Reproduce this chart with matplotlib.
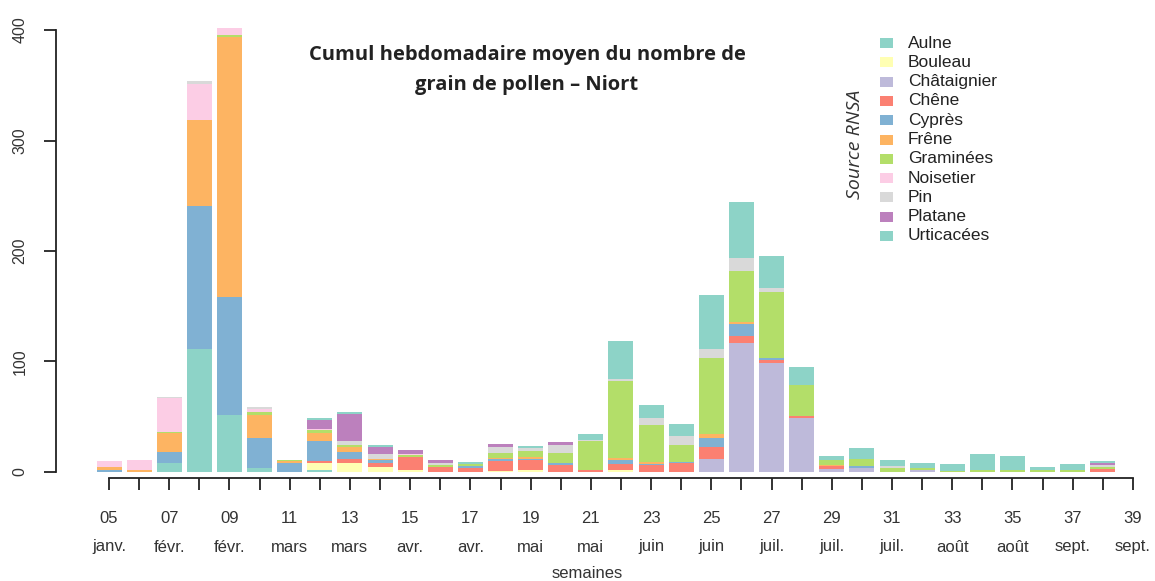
import matplotlib
matplotlib.use('Agg')
import matplotlib.pyplot as plt
from matplotlib.patches import Rectangle
import matplotlib.transforms as mtransforms
import numpy as np

# Semaines 05 à 39
weeks = list(range(5, 40))
week_labels = ['05', '07', '09', '11', '13', '15', '17', '19', '21',
               '23', '25', '27', '29', '31', '33', '35', '37', '39']
month_labels = ['janv.', 'févr.', 'févr.', 'mars', 'mars', 'avr.', 'avr.', 'mai', 'mai',
                'juin', 'juin', 'juil.', 'juil.', 'juil.', 'août', 'août', 'sept.', 'sept.']

taxons = ['Aulne', 'Bouleau', 'Châtaignier', 'Chêne', 'Cyprès', 'Frêne',
          'Graminées', 'Noisetier', 'Pin', 'Platane', 'Urticacées']

# Cumul hebdomadaire moyen par taxon (semaines 05 -> 39)
aulne       = [0, 0, 8, 111, 51, 3, 0, 1.5, 0, 0, 0, 0, 0, 0, 0, 0, 0, 0, 0, 0,
               0, 0, 0, 0, 0, 0, 0, 0, 0, 0, 0, 0, 0, 0, 0]
bouleau     = [0, 0, 0, 0, 0, 0, 0, 6, 7.5, 4, 1.5, 0, 0, 0.5, 2, 0, 0, 2, 0, 0,
               0, 0, 0, 0, 0, 0, 0, 0, 0, 0, 0, 0, 0, 0, 0]
chataignier = [0, 0, 0, 0, 0, 0, 0, 0, 0, 0, 0, 0, 0, 0, 0, 0, 0, 0, 0, 0,
               11.2, 116.2, 98.1, 48.9, 2.4, 3.6, 0, 1.5, 0, 0, 0, 0, 0, 0, 0]
chene       = [0, 0, 0, 0, 0, 0, 0, 2, 3.6, 3.6, 11.5, 4, 3, 9.5, 8.5, 6, 1.5, 5.4, 6, 7.5,
               11.5, 6.6, 3, 1.8, 3, 0, 0, 0, 0, 0, 0, 0, 0, 2.5, 0]
cypres      = [2, 0, 10, 130, 107, 28, 8, 18, 7, 3, 0, 0, 2.4, 1.2, 1, 1.5, 0, 3, 1, 1.5,
               8.2, 10.9, 1.5, 0, 0, 1.5, 0, 0, 0, 0, 0, 0, 0, 0, 0]
frene       = [2, 2, 17, 78, 236, 20, 1.5, 7.5, 4.5, 1, 0, 0, 0, 1, 1.5, 0, 0, 2, 2, 0,
               3, 1.5, 0, 0, 1, 0, 0, 0, 0, 0, 0, 0, 0, 0, 0]
graminees   = [0, 0, 1, 0, 1.5, 3, 1.5, 3, 1.5, 0, 2, 2, 2, 5, 6, 9.7, 26.6, 69.7, 33, 15,
               68.8, 46.8, 60.4, 27.8, 3.9, 6, 3, 1.5, 1, 1.5, 1.5, 1.5, 2, 2, 0]
noisetier   = [6, 9, 31, 32, 6, 2.5, 0, 1, 0, 0, 1, 0, 0, 0, 0, 0, 0, 0, 0, 0,
               0, 0, 0, 0, 0, 0, 0, 0, 0, 0, 0, 0, 0, 0, 0]
pin         = [0, 0, 1, 3, 0, 2.5, 0, 0, 3.6, 4.8, 0, 2, 0, 5.5, 2.5, 7, 0.6, 2, 6.6, 8,
               8.2, 11.2, 3, 0, 0, 0, 2, 0, 0, 0, 0, 0, 0, 2, 0]
platane     = [0, 0, 0, 0, 0, 0, 0, 8, 25, 6, 4, 3, 0, 2, 0, 3, 0, 0, 0, 0,
               0, 0, 0, 0, 0, 0, 0, 0, 0, 0, 0, 0, 0, 1.5, 0]
urticacees  = [0, 0, 0, 0, 0, 0, 0, 1.5, 1.2, 1.5, 0, 0, 1.5, 0, 2, 0, 5.4, 34.7, 11.5, 11.5,
               49.2, 51.3, 29.3, 16.6, 3.6, 10, 6, 5, 5.6, 14.5, 13, 3, 4.6, 1.7, 0]

series = [aulne, bouleau, chataignier, chene, cypres, frene,
          graminees, noisetier, pin, platane, urticacees]

# palette Set3 (10 couleurs, recyclée pour le 11e taxon)
set3 = ['#8DD3C7', '#FFFFB3', '#BEBADA', '#FB8072', '#80B1D3',
        '#FDB462', '#B3DE69', '#FCCDE5', '#D9D9D9', '#BC80BD']
colors = [set3[i % len(set3)] for i in range(len(taxons))]

W, H = 1155, 581
fig = plt.figure(figsize=(W / 100, H / 100), dpi=100)

def fx(px):
    return px / W

def fy(py):
    return 1 - py / H

ax = fig.add_axes([fx(56), fy(477.8), fx(1092), (477.8 - 19.06) / H])

bottom = np.zeros(len(weeks))
for vals, col in zip(series, colors):
    ax.bar(weeks, vals, width=0.83, bottom=bottom, color=col, edgecolor='none')
    bottom += np.array(vals)

ax.set_xlim(3.24, 39.5)
ax.set_ylim(-5.5, 410)

for s in ['top', 'right']:
    ax.spines[s].set_visible(False)
ax.spines['left'].set_bounds(0, 400)
ax.spines['bottom'].set_bounds(5, 39)
for s in ['left', 'bottom']:
    ax.spines[s].set_linewidth(1.3)
    ax.spines[s].set_color('#222222')

ax.set_yticks([0, 100, 200, 300, 400])
ax.set_yticklabels(['0', '100', '200', '300', '400'], rotation=90, va='center',
                   fontfamily='Liberation Sans', fontsize=11.5, color='#333333')
ax.tick_params(axis='y', length=8.6, width=1.3, color='#222222', pad=12)

ax.set_xticks(weeks)
xt = []
for w in weeks:
    xt.append('%02d' % w if (w - 5) % 2 == 0 else '')
ax.set_xticklabels(xt, fontfamily='Liberation Sans', fontsize=12, color='#333333')
ax.tick_params(axis='x', length=8.6, width=1.3, color='#222222', pad=15)

# mois sous les numéros de semaine
trans = mtransforms.blended_transform_factory(ax.transData, fig.transFigure)
for w, m in zip(weeks[::2], month_labels):
    ax.text(w, fy(547), m, transform=trans, ha='center', va='center',
            fontfamily='Liberation Sans', fontsize=12, color='#333333')

fig.text(fx(587), fy(573), 'semaines', ha='center', va='center',
         fontfamily='Liberation Sans', fontsize=12, color='#333333')

fig.text(fx(527), fy(55), 'Cumul hebdomadaire moyen du nombre de', ha='center', va='center',
         fontfamily='Open Sans', fontweight='bold', fontsize=14.5, color='#222222')
fig.text(fx(527), fy(85), 'grain de pollen – Niort', ha='center', va='center',
         fontfamily='Open Sans', fontweight='bold', fontsize=14.5, color='#222222')

fig.text(fx(855), fy(144), 'Source RNSA', rotation=90, ha='center', va='center',
         fontfamily='Open Sans', fontstyle='italic', fontsize=14, color='#333333')

# légende
for i, (name, col) in enumerate(zip(taxons, colors)):
    yc = 43 + 19.3 * i
    fig.patches.append(Rectangle((fx(880), fy(yc + 5)), fx(13), 10 / H,
                                 transform=fig.transFigure, facecolor=col,
                                 edgecolor='none'))
    fig.text(fx(908), fy(yc), name, ha='left', va='center',
             fontfamily='Liberation Sans', fontsize=12.5, color='#222222')

fig.savefig('out.png', dpi=100)
plt.close(fig)
